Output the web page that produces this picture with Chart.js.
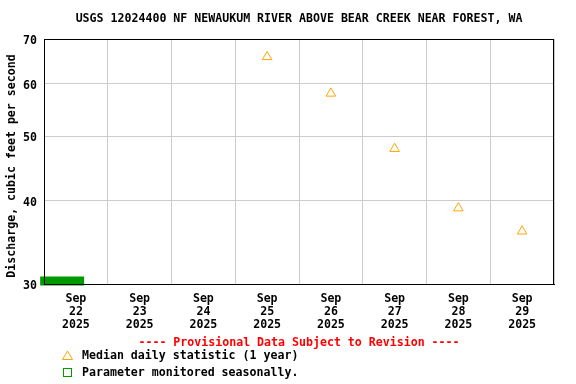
<!DOCTYPE html>
<html>
<head>
<meta charset="utf-8">
<script src="https://cdn.jsdelivr.net/npm/chart.js@4"></script>
<style>
  html, body { margin: 0; padding: 0; background: #fff; }
  #wrap { width: 576px; height: 384px; }
</style>
</head>
<body>
<div id="wrap"><canvas id="chart"></canvas></div>
<script>
'use strict';

/* ── Dados ── */
const TITLE    = 'USGS 12024400 NF NEWAUKUM RIVER ABOVE BEAR CREEK NEAR FOREST, WA';
const Y_LABEL  = 'Discharge, cubic feet per second';
const MONTH    = 'Sep';
const YEAR     = '2025';
const DAYS     = ['22', '23', '24', '25', '26', '27', '28', '29'];
const MEDIAN   = [null, null, null, 65.8, 58.0, 47.9, 39.0, 36.0];   // cfs
const Y_TICKS  = [30, 40, 50, 60, 70];
const SEASONAL = [-0.06, 0.63];     // trecho (em dias) da barra verde
const SEASONAL_Y = 30.31;

const FONT   = 'DejaVu Sans Mono';
const ORANGE = '#ffa500';
const GREEN  = '#009900';

/* pontos no meio de cada dia (12h) */
const medianPts = DAYS.map((d, i) => ({ x: i + 0.5, y: MEDIAN[i] })).filter(p => p.y !== null);

/* Título, aviso e legenda desenhados à mão (estilo USGS) */
const usgsText = {
  id: 'usgsText',
  afterDatasetsDraw(chart) {
    const { ctx, chartArea: a } = chart;
    ctx.save();
    // moldura completa
    ctx.strokeStyle = '#000';
    ctx.lineWidth = 1;
    ctx.strokeRect(Math.round(a.left) + 0.5, Math.round(a.top) + 0.5,
                   Math.round(a.right - a.left) - 1, Math.round(a.bottom - a.top));
    ctx.restore();
  },
  afterDraw(chart) {
    const { ctx, chartArea: a } = chart;
    const cx = (a.left + a.right) / 2;
    ctx.save();
    ctx.font = `bold 11.6px "${FONT}"`;
    ctx.textBaseline = 'middle';
    ctx.textAlign = 'center';
    ctx.fillStyle = '#000';
    ctx.fillText(TITLE, cx, 19);

    // título do eixo Y
    ctx.save();
    ctx.translate(12, 166);
    ctx.rotate(-Math.PI / 2);
    ctx.fillText(Y_LABEL, 0, 0);
    ctx.restore();

    ctx.fillStyle = '#ff0000';
    ctx.fillText('---- Provisional Data Subject to Revision ----', cx, 343);

    ctx.textAlign = 'left';
    ctx.fillStyle = '#000';
    ctx.fillText('Median daily statistic (1 year)', 82, 356);
    ctx.fillText('Parameter monitored seasonally.', 82, 373);

    // símbolos da legenda
    ctx.strokeStyle = ORANGE;
    ctx.lineWidth = 1;
    ctx.beginPath();
    ctx.moveTo(67.5, 351);
    ctx.lineTo(72.5, 359.5);
    ctx.lineTo(62.5, 359.5);
    ctx.closePath();
    ctx.stroke();

    ctx.strokeStyle = GREEN;
    ctx.strokeRect(63.5, 368.5, 8, 8);
    ctx.restore();
  },
};

new Chart(document.getElementById('chart'), {
  type: 'line',
  data: {
    datasets: [
      {
        label: 'Median daily statistic (1 year)',
        data: medianPts,
        showLine: false,
        pointStyle: 'triangle',
        pointRadius: 5.5,
        pointHoverRadius: 5.5,
        borderWidth: 1,
        borderColor: ORANGE,
        backgroundColor: 'rgba(0,0,0,0)',
      },
      {
        label: 'Parameter monitored seasonally.',
        data: SEASONAL.map(x => ({ x, y: SEASONAL_Y })),
        borderColor: GREEN,
        borderWidth: 9,
        borderCapStyle: 'butt',
        pointRadius: 0,
        clip: false,
      },
    ],
  },
  options: {
    responsive: true,
    maintainAspectRatio: false,
    animation: false,
    events: [],
    layout: { padding: { top: 39, right: 22, bottom: 0, left: 0 } },
    plugins: { legend: { display: false }, title: { display: false }, tooltip: { enabled: false } },
    scales: {
      x: {
        type: 'linear',
        min: 0,
        max: DAYS.length,
        afterBuildTicks: s => { s.ticks = DAYS.map((_, i) => ({ value: i + 0.5 })); },
        afterFit: s => { s.height = 100; },
        grid: { color: '#cccccc', offset: true, drawTicks: false },
        border: { color: '#000' },
        ticks: {
          autoSkip: false,
          maxRotation: 0,
          padding: 8,
          color: '#000',
          font: { family: FONT, size: 11.6, weight: 'bold', lineHeight: 1.15 },
          callback: (v, i) => [MONTH, DAYS[i], YEAR],
        },
      },
      y: {
        type: 'logarithmic',
        min: 30,
        max: 70,
        afterBuildTicks: s => { s.ticks = Y_TICKS.map(v => ({ value: v })); },
        afterFit: s => { s.width = 44; },
        grid: { color: '#cccccc', drawTicks: false },
        border: { color: '#000' },
        ticks: {
          padding: 7,
          labelOffset: 2,
          color: '#000',
          font: { family: FONT, size: 11.6, weight: 'bold' },
          callback: v => String(v),
        },
      },
    },
  },
  plugins: [usgsText],
});
</script>
</body>
</html>
